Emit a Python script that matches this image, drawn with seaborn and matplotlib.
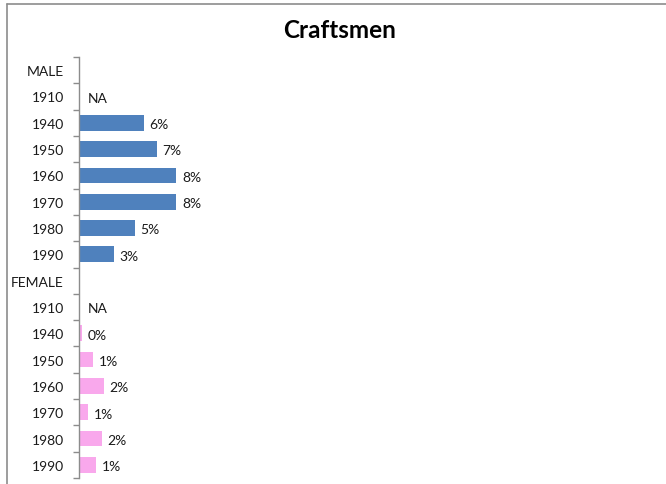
import numpy as np
import pandas as pd
import matplotlib
matplotlib.use("Agg")
import matplotlib.pyplot as plt
from matplotlib.lines import Line2D
from matplotlib.ticker import FixedLocator
import seaborn as sns

# Share of workers who are craftsmen, by sex and census year
years = ["1910", "1940", "1950", "1960", "1970", "1980", "1990"]
male_share = [np.nan, 0.056, 0.067, 0.084, 0.084, 0.048, 0.030]
female_share = [np.nan, 0.0026, 0.012, 0.0216, 0.0078, 0.0198, 0.0147]
group_labels = ["MALE", "FEMALE"]
title = "Craftsmen"

male_color = "#4F81BD"
female_color = "#F9A8EC"
axis_gray = "#8C8C8C"

# One row per line of the chart: a header row per group, then its years
row_keys, row_labels, row_values, row_group = [], [], [], []
for grp, vals in zip(group_labels, [male_share, female_share]):
    row_keys.append(grp)
    row_labels.append(grp)
    row_values.append(np.nan)
    row_group.append(grp)
    for y, v in zip(years, vals):
        row_keys.append(f"{grp}-{y}")
        row_labels.append(y)
        row_values.append(v)
        row_group.append(grp)

df = pd.DataFrame({"row": row_keys, "share": row_values, "group": row_group})

sns.set_theme(style="white")
plt.rcParams["font.family"] = ["Lato", "DejaVu Sans"]

fig = plt.figure(figsize=(6.66, 4.85), dpi=100)
ax = fig.add_axes([79 / 666, 1 - 479 / 485, 580 / 666, 421 / 485])

sns.barplot(
    data=df.dropna(), x="share", y="row", hue="group", order=row_keys,
    hue_order=group_labels, palette=[male_color, female_color],
    orient="h", dodge=False, width=0.6, legend=False, ax=ax,
    saturation=1, linewidth=0,
)

ax.set_xlim(0, 0.5)
ax.set_ylim(len(row_keys) - 0.5, -0.5)
ax.set_xlabel("")
ax.set_ylabel("")
ax.set_xticks([])

# Category labels with tick marks drawn between categories
ax.set_yticks(range(len(row_keys)))
ax.set_yticklabels(row_labels, fontsize=10, color="#1a1a1a")
ax.yaxis.set_minor_locator(FixedLocator(np.arange(-0.5, len(row_keys), 1.0)))
ax.tick_params(axis="y", which="major", length=0, pad=11)
ax.tick_params(axis="y", which="minor", length=4, width=1, color=axis_gray, left=True)

for side in ["top", "right", "bottom"]:
    ax.spines[side].set_visible(False)
ax.spines["left"].set_color(axis_gray)
ax.spines["left"].set_linewidth(1)

# Value labels next to each bar, NA where there is no data
for i, (lab, v) in enumerate(zip(row_labels, row_values)):
    if lab in group_labels:
        continue
    if np.isnan(v):
        ax.annotate("NA", (0, i), xytext=(6, -1), textcoords="offset points",
                    va="center", ha="left", fontsize=10, color="#1a1a1a")
    else:
        ax.annotate(f"{v:.0%}", (v, i), xytext=(4, -1), textcoords="offset points",
                    va="center", ha="left", fontsize=10, color="#1a1a1a")

fig.text(340 / 666, 1 - 31 / 485, title, ha="center", va="center",
         fontsize=17.5, fontweight="bold", color="#000000")

# Chart frame edges
fig.add_artist(Line2D([7 / 666, 1], [1 - 5 / 485, 1 - 5 / 485],
                      transform=fig.transFigure, color=axis_gray, lw=1.2))
fig.add_artist(Line2D([7 / 666, 7 / 666], [0, 1 - 5 / 485],
                      transform=fig.transFigure, color=axis_gray, lw=1.2))

fig.savefig("out.png", dpi=100, facecolor="white")
